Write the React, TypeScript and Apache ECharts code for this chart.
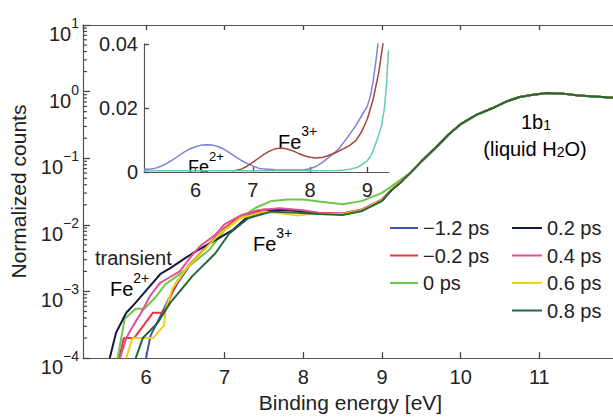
import React, { useEffect, useRef } from "react";
import * as echarts from "echarts";

const FONT = '"Liberation Sans", Arial, Helvetica, sans-serif';
const TEXT = "#222";
const AXIS = "#555";
const TICK = "#444";

// main panel ranges
const energyMin = 5.2;
const energyMax = 12;
const countsMin = 0.0001;
const countsMax = 10;

const seriesNames = ["−1.2 ps", "−0.2 ps", "0 ps", "0.2 ps", "0.4 ps", "0.6 ps", "0.8 ps"];
const seriesColors = ["#3b55b8", "#e8363c", "#6cc84c", "#161a3c", "#e04f98", "#f2cf12", "#22683a"];

// [binding energy (eV), normalized counts]
const headM12 = [[6.0,0.0001],[6.06,0.000219],[6.19,0.00044],[6.29,0.00078],[6.4,0.00132],[6.55,0.0024],[6.75,0.00447],[7.0,0.00891],[7.2,0.0132],[7.5,0.0166],[7.8,0.0166],[8.0,0.0158],[8.2,0.0148],[8.5,0.0145],[8.75,0.0166],[9.0,0.0234],[9.12,0.0339],[9.24,0.0447]];
const headM02 = [[5.66,0.0001],[5.72,0.0002],[5.85,0.0002],[6.09,0.00048],[6.23,0.00048],[6.38,0.00132],[6.55,0.00251],[6.75,0.00447],[7.0,0.00891],[7.2,0.0135],[7.5,0.017],[7.8,0.017],[8.0,0.0162],[8.2,0.0151],[8.5,0.0148],[8.75,0.017],[9.0,0.024],[9.12,0.0339],[9.24,0.0447]];
const head00 = [[5.64,0.0001],[5.73,0.00039],[5.87,0.00055],[5.98,0.00055],[6.11,0.00079],[6.25,0.00129],[6.43,0.00182],[6.59,0.00263],[6.81,0.00427],[7.0,0.00832],[7.2,0.0126],[7.4,0.0182],[7.6,0.0229],[7.8,0.024],[8.0,0.024],[8.2,0.0224],[8.5,0.0204],[8.75,0.0229],[9.0,0.0302],[9.12,0.038],[9.24,0.0479]];
const head02 = [[5.54,0.0001],[5.62,0.00024],[5.75,0.00048],[5.87,0.00068],[6.05,0.0012],[6.19,0.00186],[6.31,0.00224],[6.47,0.003],[6.59,0.00372],[6.85,0.00562],[7.1,0.00832],[7.3,0.0135],[7.6,0.0166],[7.8,0.017],[8.0,0.0158],[8.2,0.0145],[8.5,0.0145],[8.75,0.0166],[9.0,0.0229],[9.12,0.0331],[9.24,0.0437]];
const head04 = [[5.67,0.0001],[5.75,0.0002],[5.84,0.00031],[5.94,0.00048],[6.05,0.00085],[6.18,0.00135],[6.28,0.00158],[6.43,0.002],[6.59,0.00355],[6.68,0.00468],[6.88,0.00708],[7.0,0.0102],[7.2,0.0138],[7.42,0.0166],[7.7,0.0178],[8.0,0.0166],[8.2,0.0151],[8.5,0.0148],[8.75,0.017],[9.0,0.024],[9.12,0.0339],[9.24,0.0447]];
const head06 = [[5.75,0.0001],[5.83,0.0002],[6.09,0.0002],[6.23,0.00031],[6.25,0.00055],[6.34,0.00112],[6.5,0.00209],[6.7,0.0038],[6.95,0.00759],[7.2,0.0126],[7.5,0.0158],[7.8,0.0145],[7.92,0.0138],[8.1,0.0145],[8.3,0.0145],[8.5,0.0145],[8.75,0.0166],[9.0,0.0234],[9.12,0.0339],[9.24,0.0447]];
const head08 = [[5.87,0.0001],[5.96,0.0002],[6.15,0.00034],[6.31,0.00068],[6.38,0.00085],[6.59,0.0017],[6.88,0.00372],[7.06,0.00741],[7.3,0.0126],[7.6,0.0158],[8.0,0.0151],[8.2,0.0145],[8.5,0.0141],[8.75,0.0162],[9.0,0.0229],[9.12,0.0331],[9.24,0.0437]];
// common 1b1 (liquid water) part
const waterTail = [[9.36,0.0603],[9.5,0.0891],[9.7,0.151],[9.85,0.229],[10.0,0.324],[10.2,0.447],[10.4,0.562],[10.6,0.724],[10.75,0.832],[10.9,0.891],[11.1,0.955],[11.3,0.933],[11.5,0.871],[11.8,0.832],[12.0,0.794]];
const heads = [headM12, headM02, head00, head02, head04, head06, head08];

// inset panel
const insetXMin = 5.1;
const insetXMax = 9.38;
const insetYMax = 0.04;
const insetColors = ["#7f83d8", "#a4463c", "#5ccfae"];
const insetBlue = [[5.1,0.0008],[5.2,0.0009],[5.3,0.0012],[5.4,0.0018],[5.5,0.0027],[5.6,0.0038],[5.7,0.005],[5.8,0.0062],[5.9,0.0072],[6.0,0.0079],[6.1,0.0084],[6.2,0.0085],[6.3,0.0084],[6.4,0.0079],[6.5,0.0071],[6.6,0.006],[6.7,0.0047],[6.8,0.0036],[6.9,0.0027],[7.0,0.0019],[7.1,0.0012],[7.2,0.0009],[7.4,0.0007],[7.7,0.0006],[7.9,0.0007],[8.0,0.001],[8.1,0.0017],[8.2,0.0028],[8.3,0.0042],[8.4,0.0056],[8.5,0.0072],[8.6,0.0095],[8.7,0.012],[8.8,0.0145],[8.9,0.0175],[9.0,0.0205],[9.05,0.0234],[9.1,0.028],[9.15,0.0345],[9.2,0.042]];
const insetBrown = [[6.65,0.0003],[6.8,0.0009],[6.9,0.0018],[7.0,0.003],[7.1,0.0043],[7.2,0.0056],[7.3,0.0066],[7.4,0.0073],[7.5,0.0075],[7.6,0.0072],[7.7,0.0066],[7.8,0.0058],[7.9,0.0051],[8.0,0.0046],[8.1,0.0044],[8.2,0.0045],[8.3,0.005],[8.4,0.0057],[8.5,0.0065],[8.6,0.0074],[8.7,0.0084],[8.8,0.0098],[8.9,0.0125],[9.0,0.0165],[9.1,0.0225],[9.2,0.031],[9.29,0.042]];
const insetTeal = [[5.1,0.0004],[5.5,0.0004],[6.0,0.0004],[6.5,0.0004],[7.0,0.0004],[7.5,0.0004],[8.0,0.0004],[8.5,0.0005],[8.6,0.0006],[8.7,0.0009],[8.8,0.0013],[8.9,0.0022],[9.0,0.0035],[9.05,0.0047],[9.1,0.0065],[9.15,0.009],[9.2,0.0115],[9.25,0.0145],[9.3,0.02],[9.34,0.028],[9.37,0.038]];
const insetData = [insetBlue, insetBrown, insetTeal];

// log-axis minor ticks (2..9 within each decade)
const minorMantissas = [2, 3, 4, 5, 6, 7, 8, 9];
const decades = [0.0001, 0.001, 0.01, 0.1, 1];

const supRich = {
  b: { fontSize: 20, fontFamily: FONT, color: TEXT, lineHeight: 28, verticalAlign: "bottom" },
  s: { fontSize: 14, fontFamily: FONT, color: TEXT, lineHeight: 10, verticalAlign: "top" },
};
const supRichSmall = {
  b: { fontSize: 18, fontFamily: FONT, color: TEXT, lineHeight: 26, verticalAlign: "bottom" },
  s: { fontSize: 13, fontFamily: FONT, color: TEXT, lineHeight: 10, verticalAlign: "top" },
};
const subRich = {
  b: { fontSize: 20, fontFamily: FONT, color: TEXT, lineHeight: 20, verticalAlign: "top" },
  u: { fontSize: 14, fontFamily: FONT, color: TEXT, lineHeight: 8, verticalAlign: "bottom" },
};

function buildOption() {
  const minorTicks: number[][] = [];
  decades.forEach((d) => minorMantissas.forEach((m) => minorTicks.push([energyMin, m * d])));

  const tickStyle = { lineStyle: { color: TICK, width: 1.3 } };
  const labelStyle = { fontSize: 20, fontFamily: FONT, color: TEXT };

  const mainSeries: any[] = seriesNames.map((name, i) => ({
    type: "line",
    name,
    xAxisIndex: 0,
    yAxisIndex: 0,
    data: heads[i].concat(waterTail),
    symbol: "none",
    lineStyle: { width: 2, color: seriesColors[i] },
    itemStyle: { color: seriesColors[i] },
    z: 3,
  }));

  const insetSeries = insetData.map((d, i) => ({
    type: "line",
    name: "inset" + i,
    xAxisIndex: 2,
    yAxisIndex: 1,
    data: d,
    symbol: "none",
    lineStyle: { width: 1.5, color: insetColors[i] },
    z: 4,
  }));

  return {
    animation: false,
    backgroundColor: "#fff",
    textStyle: { fontFamily: FONT },
    grid: [
      { left: 82, top: 25, width: 536, height: 338 },
      { left: 144, top: 44, width: 245, height: 128 },
    ],
    xAxis: [
      {
        gridIndex: 0, type: "value", min: energyMin, max: energyMax, splitNumber: 7,
        axisLine: { show: true, lineStyle: { color: AXIS, width: 1.2 } },
        axisTick: { show: true, inside: true, length: 6, ...tickStyle },
        axisLabel: {
          ...labelStyle, margin: 9, showMinLabel: false, showMaxLabel: false,
          formatter: (v: number) => (Number.isInteger(v) ? String(v) : ""),
        },
        splitLine: { show: false },
        name: "Binding energy [eV]", nameLocation: "middle", nameGap: 31,
        nameTextStyle: { fontSize: 21, fontFamily: FONT, color: TEXT },
      },
      {
        gridIndex: 0, type: "value", position: "top", min: energyMin, max: energyMax, splitNumber: 7,
        axisLine: { show: true, lineStyle: { color: AXIS, width: 1.2 } },
        axisTick: { show: true, inside: true, length: 5, ...tickStyle },
        axisLabel: { show: false },
        splitLine: { show: false },
      },
      {
        gridIndex: 1, type: "value", min: insetXMin, max: insetXMax, splitNumber: 4,
        axisLine: { show: true, lineStyle: { color: AXIS, width: 1.2 } },
        axisTick: { show: true, inside: true, length: 5, ...tickStyle },
        axisLabel: {
          ...labelStyle, margin: 8, showMinLabel: false, showMaxLabel: false,
          formatter: (v: number) => (Number.isInteger(v) ? String(v) : ""),
        },
        splitLine: { show: false },
      },
    ],
    yAxis: [
      {
        gridIndex: 0, type: "log", logBase: 10, min: countsMin, max: countsMax,
        axisLine: { show: true, lineStyle: { color: AXIS, width: 1.2 } },
        axisTick: { show: true, inside: true, length: 7, ...tickStyle },
        axisLabel: {
          margin: 4,
          padding: [10, 0, 0, 0],
          formatter: (v: number) => {
            const e = Math.round(Math.log10(v));
            return "{b|10}{s|" + (e < 0 ? "−" + -e : String(e)) + "}";
          },
          rich: supRich,
        },
        splitLine: { show: false },
        name: "Normalized counts", nameLocation: "middle", nameGap: 54,
        nameTextStyle: { fontSize: 21, fontFamily: FONT, color: TEXT },
      },
      {
        gridIndex: 1, type: "value", min: 0, max: insetYMax, interval: 0.02,
        axisLine: { show: true, lineStyle: { color: AXIS, width: 1.2 } },
        axisTick: { show: true, inside: true, length: 5, ...tickStyle },
        axisLabel: {
          ...labelStyle, margin: 6,
          formatter: (v: number) => (v === 0 ? "0" : v.toFixed(2)),
        },
        splitLine: { show: false },
      },
    ],
    legend: [
      {
        data: seriesNames.slice(0, 3), orient: "vertical", left: 385, top: 212,
        itemWidth: 28, itemHeight: 2, itemGap: 5.5, icon: "rect",
        textStyle: { fontSize: 20, lineHeight: 22, fontFamily: FONT, color: TEXT },
        selectedMode: false,
      },
      {
        data: seriesNames.slice(3), orient: "vertical", left: 507, top: 212,
        itemWidth: 30, itemHeight: 2, itemGap: 5.5, icon: "rect",
        textStyle: { fontSize: 20, lineHeight: 22, fontFamily: FONT, color: TEXT },
        selectedMode: false,
      },
    ],
    series: [
      ...mainSeries,
      ...insetSeries,
      {
        type: "scatter",
        name: "minorTicks",
        xAxisIndex: 0,
        yAxisIndex: 0,
        silent: true,
        data: minorTicks,
        symbol: "rect",
        symbolSize: [4, 1.2],
        symbolOffset: [2, 0],
        itemStyle: { color: TICK, opacity: 1 },
        clip: false,
        z: 5,
      },
    ],
    graphic: [
      { type: "text", x: 95, y: 258, style: { text: "transient", fontSize: 20, fontFamily: FONT, fill: TEXT, verticalAlign: "middle" } },
      { type: "text", x: 110, y: 285, style: { text: "{b|Fe}{s|2+}", rich: supRich, verticalAlign: "middle" } },
      { type: "text", x: 253, y: 240, style: { text: "{b|Fe}{s|3+}", rich: supRich, verticalAlign: "middle" } },
      { type: "text", x: 536, y: 122, style: { text: "{b|1b}{u|1}", rich: subRich, align: "center", verticalAlign: "middle" } },
      { type: "text", x: 535, y: 149, style: { text: "{b|(liquid H}{u|2}{b|O)}", rich: subRich, align: "center", verticalAlign: "middle" } },
      { type: "text", x: 188, y: 163, style: { text: "{b|Fe}{s|2+}", rich: supRichSmall, verticalAlign: "middle" } },
      { type: "text", x: 278, y: 138, style: { text: "{b|Fe}{s|3+}", rich: supRich, verticalAlign: "middle" } },
    ],
  };
}

export default function App() {
  const ref = useRef<HTMLDivElement>(null);
  useEffect(() => {
    if (!ref.current) return;
    const chart = echarts.init(ref.current, null, { renderer: "svg" });
    chart.setOption(buildOption() as any);
    return () => chart.dispose();
  }, []);
  return (
    <div style={{ position: "fixed", left: 0, top: 0, width: 613, height: 418, overflow: "hidden", background: "#fff" }}>
      <div ref={ref} style={{ width: 625, height: 418 }} />
    </div>
  );
}
